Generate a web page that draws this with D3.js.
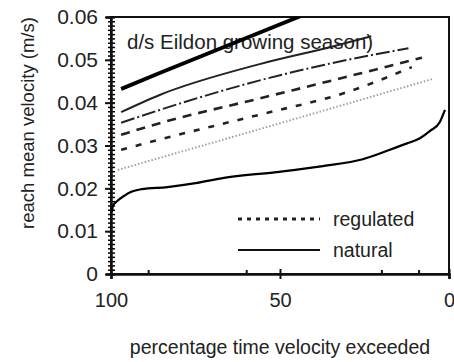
<!DOCTYPE html>
<html><head><meta charset="utf-8">
<script src="https://cdn.jsdelivr.net/npm/d3@7"></script>
<style>body{margin:0;background:#fff;} text{font-family:"Liberation Sans",Arial,sans-serif;fill:#222;}</style>
</head><body><svg id="c" width="454" height="362"></svg>
<script>
const yTicks = [0, 0.01, 0.02, 0.03, 0.04, 0.05, 0.06];
const yTickLabels = ["0", "0.01", "0.02", "0.03", "0.04", "0.05", "0.06"];
const yMinorStep = 0.001;
const xTicks = [100, 50, 0];
const xMinorTicks = [89, 60, 20, 9];
const title = "d/s Eildon growing season)";
const xLabel = "percentage time velocity exceeded";
const yLabel = "reach mean velocity (m/s)";
const legendLabels = ["regulated", "natural"];
// series: [percentage exceeded, velocity m/s]
const regThick = [[97,0.0432],[85.6,0.0469],[44,0.0602]];
const regSolid = [[97,0.0378],[85.6,0.0418],[56,0.0490],[35,0.0530],[23,0.0555]];
const regDashDot = [[97,0.0353],[85.6,0.0383],[56,0.0452],[30,0.0500],[12,0.0527]];
const regLongDash = [[97,0.0325],[85.6,0.0352],[56,0.0410],[26.4,0.0468],[8,0.0505]];
const regDash = [[97,0.0290],[85.6,0.0314],[56,0.0372],[30,0.0425],[11,0.0483]];
const regGrey = [[98,0.0243],[50,0.0352],[5,0.0455]];
const natural = [[99.7,0.0145],[99.4,0.0160],[98.5,0.0168],[96,0.0183],[94,0.0192],[91,0.0198],[83.3,0.0203],[75,0.0212],[67,0.0224],[51,0.0238],[37.3,0.0252],[25.5,0.0268],[17.5,0.0290],[12.4,0.0305],[8.6,0.0317],[5.6,0.0334],[2.7,0.0355],[1.2,0.0383]];

const svg = d3.select("#c");
const L = 111, R = 449, T = 17, B = 274;
const x = d3.scaleLinear().domain([100, 0]).range([L, R]);
const y = d3.scaleLinear().domain([0, 0.06]).range([B, T]);

svg.append("defs").append("clipPath").attr("id","clip").append("rect")
  .attr("x", L).attr("y", T).attr("width", R - L).attr("height", B - T);

// frame
svg.append("rect").attr("x", L).attr("y", T).attr("width", R - L).attr("height", B - T)
  .attr("fill","none").attr("stroke","#111").attr("stroke-width",2);

// y axis minor ticks via a second axis
const minorVals = d3.range(0, 61, 1).map(d => +(d * yMinorStep).toFixed(3));
const gm = svg.append("g").attr("class","minor").attr("transform",`translate(${L},0)`)
  .call(d3.axisRight(y).tickValues(minorVals).tickSize(4).tickFormat(""));
gm.select(".domain").remove();
gm.selectAll(".tick line").attr("stroke","#000").attr("stroke-width",1.5).attr("x1",-3);

// y axis major
const yAxis = d3.axisLeft(y).tickValues(yTicks).tickFormat((d,i) => yTickLabels[i]).tickSize(5).tickPadding(8);
const gy = svg.append("g").attr("transform",`translate(${L},0)`).call(yAxis);
gy.select(".domain").attr("stroke","#111").attr("stroke-width",2.5);
gy.selectAll(".tick line").attr("stroke","#111").attr("stroke-width",2).attr("x2",-6).attr("x1",4);
gy.selectAll(".tick text").style("font-size","21px").attr("fill","#222");

// x axis
const xAxis = d3.axisBottom(x).tickValues(xTicks).tickFormat(d3.format("d")).tickSize(5).tickPadding(14);
const gx = svg.append("g").attr("transform",`translate(0,${B})`).call(xAxis);
gx.select(".domain").attr("stroke","#111").attr("stroke-width",2.5);
gx.selectAll(".tick line").attr("stroke","#111").attr("stroke-width",2).attr("y1",-5).attr("y2",5);
gx.selectAll(".tick text").style("font-size","20px").attr("fill","#222");
const gxm = svg.append("g").attr("transform",`translate(0,${B})`)
  .call(d3.axisTop(x).tickValues(xMinorTicks).tickSize(4).tickFormat(""));
gxm.select(".domain").remove();
gxm.selectAll(".tick line").attr("stroke","#111").attr("stroke-width",2);

// title
svg.append("text").attr("x", 127).attr("y", 49).style("font-size","20.5px").text(title);

// lines
const line = d3.line().x(d => x(d[0])).y(d => y(d[1])).curve(d3.curveMonotoneX);
const series = [
  {data: regThick, w: 3.8, dash: null, c: "#000"},
  {data: regSolid, w: 2, dash: null, c: "#222"},
  {data: regDashDot, w: 2, dash: "14,3,2,3", c: "#222"},
  {data: regLongDash, w: 2.6, dash: "9,7", c: "#222"},
  {data: regDash, w: 2.6, dash: "6,9", c: "#222"},
  {data: regGrey, w: 2, dash: "1.5,2", c: "#a0a0a0"},
  {data: natural, w: 2.2, dash: null, c: "#000"}
];
const gl = svg.append("g").attr("clip-path","url(#clip)");
series.forEach(s => {
  gl.append("path").datum(s.data).attr("d", line).attr("fill","none")
    .attr("stroke", s.c).attr("stroke-width", s.w)
    .attr("stroke-dasharray", s.dash);
});

// legend
const lg = svg.append("g");
lg.append("line").attr("x1",238).attr("x2",320).attr("y1",219).attr("y2",219)
  .attr("stroke","#222").attr("stroke-width",3).attr("stroke-dasharray","4,5");
lg.append("line").attr("x1",238).attr("x2",320).attr("y1",250).attr("y2",250)
  .attr("stroke","#111").attr("stroke-width",2.2);
lg.append("text").attr("x",333).attr("y",226).style("font-size","19.5px").text(legendLabels[0]);
lg.append("text").attr("x",333).attr("y",257).style("font-size","19.5px").text(legendLabels[1]);

// axis labels
svg.append("text").attr("x", 280).attr("y", 354).attr("text-anchor","middle").style("font-size","19.5px").text(xLabel);
svg.append("text").attr("transform","translate(34,123) rotate(-90)").attr("text-anchor","middle").style("font-size","18.5px").text(yLabel);
</script></body></html>
